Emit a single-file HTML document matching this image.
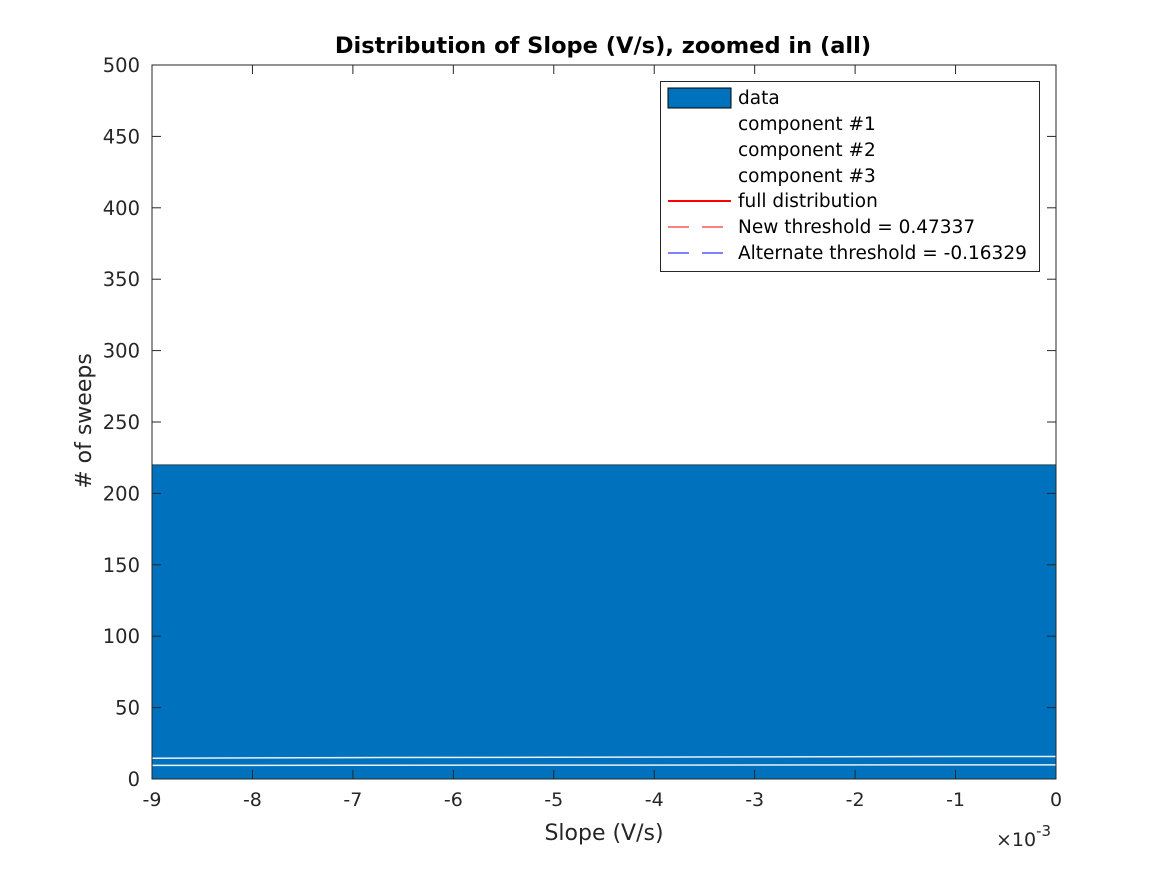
<!DOCTYPE html>
<html><head><meta charset="utf-8"><style>
body{margin:0;background:#fff;}
svg{display:block;font-family:"DejaVu Sans","Liberation Sans",sans-serif;}
</style></head><body>
<svg id="chart" width="1167" height="875" viewBox="0 0 1167 875">
<rect x="0" y="0" width="1167" height="875" fill="#fff"/>
<g id="plot"></g>
</svg>
<script>
const xTicks=[-9,-8,-7,-6,-5,-4,-3,-2,-1,0];
const yTicks=[0,50,100,150,200,250,300,350,400,450,500];
const barEdges=[-9,0];
const barCounts=[220];
const lineX=[-9,-7,-5,-3,-1,0];
const comp1=[14.5,15,15.2,15.5,15.8,15.8];
const comp2=[9.5,9.6,9.7,9.8,9.9,9.9];
const L=152,R=1056,T=65,B=779;
const sx=v=>L+(v+9)/9*(R-L);
const sy=v=>B-v/500*(B-T);
const NS="http://www.w3.org/2000/svg";
const g=document.getElementById('plot');
function mk(t,a,txt){const e=document.createElementNS(NS,t);for(const k in a)e.setAttribute(k,a[k]);if(txt!==undefined)e.textContent=txt;g.appendChild(e);return e;}
for(let i=0;i<barCounts.length;i++){
 const r=mk('rect',{x:sx(barEdges[i]),y:sy(barCounts[i]),width:sx(barEdges[i+1])-sx(barEdges[i]),height:B-sy(barCounts[i]),fill:'#0072BD',stroke:'#000','stroke-width':0.6});
 
 
}
[comp1,comp2].forEach((s,j)=>{
 const p=mk('polyline',{points:lineX.map((x,i)=>sx(x)+','+sy(s[i])).join(' '),fill:'none',stroke:'#e8f0f8','stroke-width':1.5});
 
 
});
const ax=mk('rect',{x:L,y:T,width:R-L,height:B-T,fill:'none',stroke:'#262626','stroke-width':1});


xTicks.forEach(v=>{
 const x=sx(v);
 mk('line',{x1:x,y1:B,x2:x,y2:B-9,stroke:'#262626'});
 mk('line',{x1:x,y1:T,x2:x,y2:T+9,stroke:'#262626'});
 const t=mk('text',{x:x,y:B+27,'text-anchor':'middle','font-size':19,fill:'#262626'},String(v));
 
 
});
yTicks.forEach(v=>{
 const y=sy(v);
 mk('line',{x1:L,y1:y,x2:L+9,y2:y,stroke:'#262626'});
 mk('line',{x1:R,y1:y,x2:R-9,y2:y,stroke:'#262626'});
 const t=mk('text',{x:L-12,y:y+7,'text-anchor':'end','font-size':19.5,fill:'#262626'},String(v));
 
 
});
</script>
<svg style="position:absolute;left:0;top:0" width="1167" height="875">
<text x="603" y="53" text-anchor="middle" font-size="22.5" font-weight="bold" fill="#000">Distribution of Slope (V/s), zoomed in (all)</text>
<text x="604" y="840" text-anchor="middle" font-size="22" fill="#262626">Slope (V/s)</text>
<text transform="translate(91,421) rotate(-90)" text-anchor="middle" font-size="22" fill="#262626"># of sweeps</text>
<text x="996" y="846" font-size="19" fill="#262626">×10<tspan dy="-10" font-size="15">-3</tspan></text>
<g font-size="18.5" fill="#000">
<rect x="660.5" y="81.5" width="379" height="190" fill="#fff" stroke="#262626"/>
<rect x="668" y="88" width="63" height="20" fill="#0072BD" stroke="#000"/>
<text x="738" y="104">data</text>
<text x="738" y="130">component #1</text>
<text x="738" y="156">component #2</text>
<text x="738" y="182">component #3</text>
<line x1="668" y1="201" x2="731" y2="201" stroke="#f00" stroke-width="2"/>
<text x="738" y="207">full distribution</text>
<line x1="668" y1="227" x2="689" y2="227" stroke="#f00"/><line x1="702" y1="227" x2="723" y2="227" stroke="#f00"/>
<text x="738" y="233">New threshold = 0.47337</text>
<line x1="668" y1="253" x2="689" y2="253" stroke="#00f"/><line x1="702" y1="253" x2="723" y2="253" stroke="#00f"/>
<text x="738" y="259">Alternate threshold = -0.16329</text>
</g>
</svg>
</body></html>
